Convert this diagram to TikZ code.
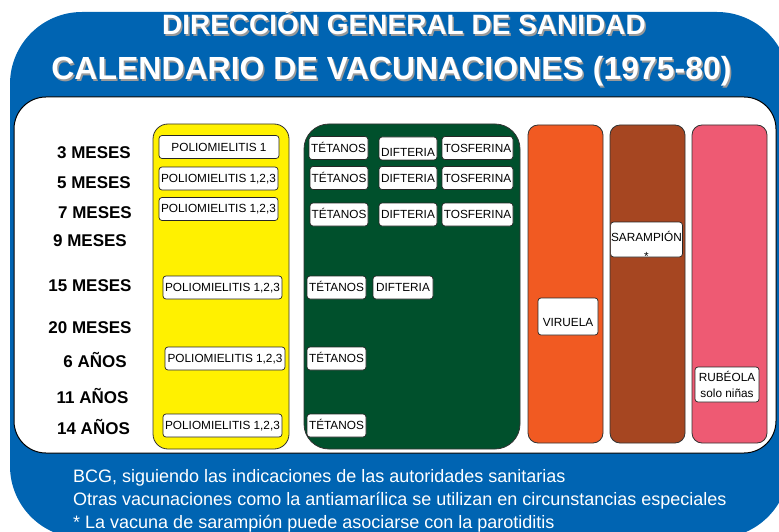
\documentclass[tikz,border=0pt]{standalone}
\usepackage{fontspec}
\setmainfont{Liberation Sans}
\usetikzlibrary{positioning}
\definecolor{sanblue}{RGB}{0,100,178}
\definecolor{polioyellow}{RGB}{255,241,0}
\definecolor{dtpgreen}{RGB}{0,80,44}
\definecolor{smallpoxorange}{RGB}{241,90,34}
\definecolor{measlesbrown}{RGB}{166,70,33}
\definecolor{rubellapink}{RGB}{238,90,115}
\tikzset
{
    column/.style   = {rectangle, draw=black!80, line width=0.8pt, inner sep=0pt},
    vacbox/.style   = {rectangle, rounded corners=3pt, draw=black!85, line width=0.7pt, fill=white, inner sep=0.5pt, minimum height=23pt, align=center, font=\fontsize{11.8}{13}\selectfont},
    vaccine/.style  = {vacbox, text height=8.5pt, text depth=0pt},
    age/.style      = {anchor=base, inner sep=0pt, font=\bfseries\fontsize{17}{20}\selectfont},
    heading/.style  = {anchor=base, inner sep=0pt, text=white, font=\bfseries\fontsize{#1}{#1}\selectfont},
    headshadow/.style = {heading=#1, text=black!40},
    note/.style     = {anchor=base west, inner sep=0pt, text=white, font=\fontsize{18}{20}\selectfont}
}

\begin{document}
\begin{tikzpicture}[x=1pt, y=-1pt]

   \useasboundingbox (0, 0) rectangle (779, 532);
   \clip (0, 0) rectangle (779, 532);

   %% background and panel
   \fill[sanblue, rounded corners=72pt] (10, 12) rectangle (789, 538);
   \draw[fill=white, line width=1pt, rounded corners=32pt] (14, 97) rectangle (776, 453);

   %% titles
   \node (dgs)  [headshadow=28] at (405.5, 36.5) {DIRECCIÓN GENERAL DE SANIDAD};
   \node (dg)   [heading=28]    at (404, 35)     {DIRECCIÓN GENERAL DE SANIDAD};
   \node (cals) [headshadow=32] at (393, 81.5)   {CALENDARIO DE VACUNACIONES (1975-80)};
   \node (cal)  [heading=32]    at (391.5, 80)   {CALENDARIO DE VACUNACIONES (1975-80)};

   %% columns
   \node (polio)    [column, fill=polioyellow, rounded corners=15pt, minimum width=136pt, minimum height=325pt]    at (221, 286.5)   {};
   \node (dtp)      [column, fill=dtpgreen, rounded corners=25pt, minimum width=216pt, minimum height=325pt]       at (412, 286.5)   {};
   \node (smallpox) [column, fill=smallpoxorange, rounded corners=10pt, minimum width=75pt, minimum height=318pt]  at (565.5, 284)   {};
   \node (measles)  [column, fill=measlesbrown, rounded corners=10pt, minimum width=75pt, minimum height=318pt]    at (647.5, 284)   {};
   \node (rubella)  [column, fill=rubellapink, rounded corners=10pt, minimum width=75pt, minimum height=318pt]     at (729.5, 284)   {};

   %% ages
   \node (m3)   [age] at (94, 158)   {3 MESES};
   \node (m5)   [age] at (94, 188)   {5 MESES};
   \node (m7)   [age] at (95, 218)   {7 MESES};
   \node (m9)   [age] at (90, 246)   {9 MESES};
   \node (m15)  [age] at (90, 291)   {15 MESES};
   \node (m20)  [age] at (90, 333)   {20 MESES};
   \node (y6)   [age] at (95, 367)   {6 AÑOS};
   \node (y11)  [age] at (92.5, 403) {11 AÑOS};
   \node (y14)  [age] at (93.5, 434) {14 AÑOS};

   %% poliomielitis
   \node (pa) [vaccine, minimum width=120pt] at (219, 147)     {POLIOMIELITIS 1};
   \node (pb) [vaccine, minimum width=119pt] at (218.5, 178.5) {POLIOMIELITIS 1,2,3};
   \node (pc) [vaccine, minimum width=119pt, text height=7pt] at (218.5, 209) {POLIOMIELITIS 1,2,3};
   \node (pd) [vaccine, minimum width=119pt] at (222.5, 287.5) {POLIOMIELITIS 1,2,3};
   \node (pe) [vaccine, minimum width=120pt] at (225, 358.5)   {POLIOMIELITIS 1,2,3};
   \node (pf) [vaccine, minimum width=119pt] at (222.5, 425.5) {POLIOMIELITIS 1,2,3};

   %% tetanos, difteria, tosferina
   \node (ta) [vaccine, minimum width=59pt] at (338.5, 148)   {TÉTANOS};
   \node (da) [vaccine, minimum width=58pt, text height=17pt] at (408, 148.5) {DIFTERIA};
   \node (fa) [vaccine, minimum width=71pt] at (477.5, 148)   {TOSFERINA};
   \node (tb) [vaccine, minimum width=58pt] at (339, 178)     {TÉTANOS};
   \node (db) [vaccine, minimum width=58pt] at (408, 178)     {DIFTERIA};
   \node (fb) [vaccine, minimum width=71pt] at (477.5, 178)   {TOSFERINA};
   \node (tc) [vaccine, minimum width=58pt] at (339, 214.5)   {TÉTANOS};
   \node (dc) [vaccine, minimum width=58pt] at (408, 214.5)   {DIFTERIA};
   \node (fc) [vaccine, minimum width=71pt] at (477.5, 214.5) {TOSFERINA};
   \node (td) [vaccine, minimum width=59pt] at (336.5, 287.5) {TÉTANOS};
   \node (dd) [vaccine, minimum width=60pt] at (403, 287.5)   {DIFTERIA};
   \node (te) [vaccine, minimum width=59pt] at (336.5, 358.5) {TÉTANOS};
   \node (tf) [vaccine, minimum width=59pt] at (336.5, 425.5) {TÉTANOS};

   %% viruela, sarampion, rubeola
   \node (va) [vaccine, minimum width=60pt, minimum height=37pt, text height=20.5pt] at (568, 316.5) {VIRUELA};
   \node (sa) [vaccine, minimum width=71pt, minimum height=35pt, text height=3.5pt,
               label={[label distance=-5pt, inner sep=0pt, font=\fontsize{11.8}{13}\selectfont]below:*}] at (646.5, 239.5) {SARAMPIÓN};
   \node (ra) [vacbox, minimum width=64pt, minimum height=35pt] at (727, 384.5) {RUBÉOLA\\[3pt]solo niñas};

   %% notes
   \node (na) [note] at (73, 482) {BCG, siguiendo las indicaciones de las autoridades sanitarias};
   \node (nb) [note] at (73, 505) {Otras vacunaciones como la antiamarílica se utilizan en circunstancias especiales};
   \node (nc) [note] at (73, 528) {* La vacuna de sarampión puede asociarse con la parotiditis};

\end{tikzpicture}
\end{document}
